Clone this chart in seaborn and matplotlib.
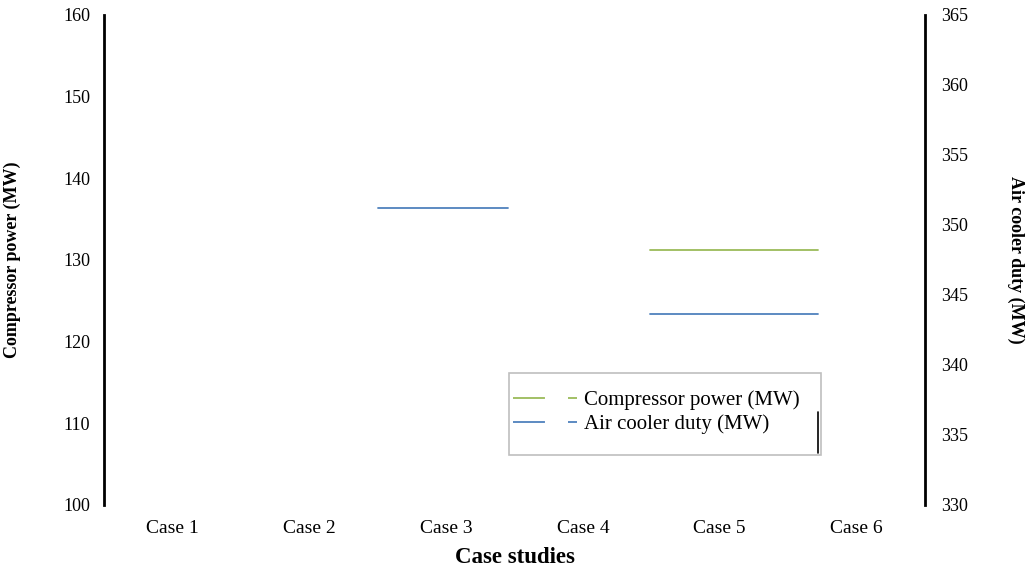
import matplotlib
matplotlib.use("Agg")
import matplotlib.pyplot as plt
import seaborn as sns
import pandas as pd
from matplotlib.lines import Line2D
from matplotlib.patches import Rectangle

# ---- data ----
categories = ["Case 1", "Case 2", "Case 3", "Case 4", "Case 5", "Case 6"]
seg_case = ["Case 3", "Case 5", "Case 5"]
seg_series = ["Air cooler duty (MW)", "Compressor power (MW)", "Air cooler duty (MW)"]
seg_value = [351.2, 131.2, 343.6]
seg_from = [-0.50, -0.51, -0.51]   # extent relative to category centre
seg_to = [0.45, 0.72, 0.72]
left_ticks = [100, 110, 120, 130, 140, 150, 160]
right_ticks = [330, 335, 340, 345, 350, 355, 360, 365]
legend_labels = ["Compressor power (MW)", "Air cooler duty (MW)"]
series_colors = {"Compressor power (MW)": "#9BBB59", "Air cooler duty (MW)": "#4F81BD"}
series_axis = {"Compressor power (MW)": "left", "Air cooler duty (MW)": "right"}

sns.set_theme(style="white")
plt.rcParams["font.family"] = ["Liberation Serif", "DejaVu Serif"]
plt.rcParams["lines.scale_dashes"] = False
for k in ("text.color", "axes.labelcolor", "xtick.color", "ytick.color"):
    plt.rcParams[k] = "black"

fig = plt.figure(figsize=(10.30, 5.73), dpi=100)
ax = fig.add_axes([0.101, 0.119, 0.797, 0.855])
ax2 = ax.twinx()

rows = []
for n, (c, s, v, a, b) in enumerate(zip(seg_case, seg_series, seg_value, seg_from, seg_to)):
    i = categories.index(c)
    rows.append(dict(seg=n, series=s, x=i + a, y=v))
    rows.append(dict(seg=n, series=s, x=i + b, y=v))
df = pd.DataFrame(rows)
for seg, g in df.groupby("seg"):
    s = g["series"].iloc[0]
    target = ax if series_axis[s] == "left" else ax2
    sns.lineplot(data=g, x="x", y="y", ax=target, color=series_colors[s],
                 linewidth=1.3, legend=False)

ax.set_xlim(-0.5, len(categories) - 0.5)
ax.set_xticks(range(len(categories)))
ax.set_xticklabels(categories, fontsize=14)
ax.set_ylim(100, 160)
ax.set_yticks(left_ticks)
ax.set_yticklabels([str(t) for t in left_ticks], fontsize=13)
ax2.set_ylim(330, 365)
ax2.set_yticks(right_ticks)
ax2.set_yticklabels([str(t) for t in right_ticks], fontsize=13)

for a in (ax, ax2):
    for side in ("top", "bottom"):
        a.spines[side].set_visible(False)
ax.spines["left"].set_color("black")
ax.spines["left"].set_linewidth(2)
ax.spines["right"].set_visible(False)
ax2.spines["left"].set_visible(False)
ax2.spines["right"].set_color("black")
ax2.spines["right"].set_linewidth(2)
ax.tick_params(axis="x", length=0, pad=11)
ax.tick_params(axis="y", length=0, pad=10)
ax2.tick_params(axis="y", length=0, pad=12)

ax.set_xlabel("Case studies", fontsize=16.5, fontweight="bold", labelpad=7)
ax.set_ylabel("Compressor power (MW)", fontsize=13, fontweight="bold", labelpad=30)
ax2.set_ylabel("Air cooler duty (MW)", fontsize=13, fontweight="bold",
               rotation=270, labelpad=40)

# legend box (drawn separately) and legend entries
ax.add_patch(Rectangle((0.493, 0.102), 0.380, 0.167, transform=ax.transAxes,
                       fill=False, edgecolor="#BFBFBF", linewidth=1.2, zorder=5))
ax.add_line(Line2D([0.870, 0.870], [0.106, 0.190], transform=ax.transAxes,
                   color="black", linewidth=1.2, zorder=6))
handles = [Line2D([], [], color=series_colors[s], linewidth=1.3,
                  linestyle=(0, (23, 16.6, 7.2, 100)))
           for s in legend_labels]
leg = ax.legend(handles, legend_labels, loc="upper left",
                bbox_to_anchor=(0.498, 0.234), fontsize=15, frameon=False,
                handlelength=3.1, handletextpad=0.33, borderaxespad=0,
                borderpad=0, labelspacing=0.2)

fig.savefig("out.png", dpi=100, facecolor="white")
